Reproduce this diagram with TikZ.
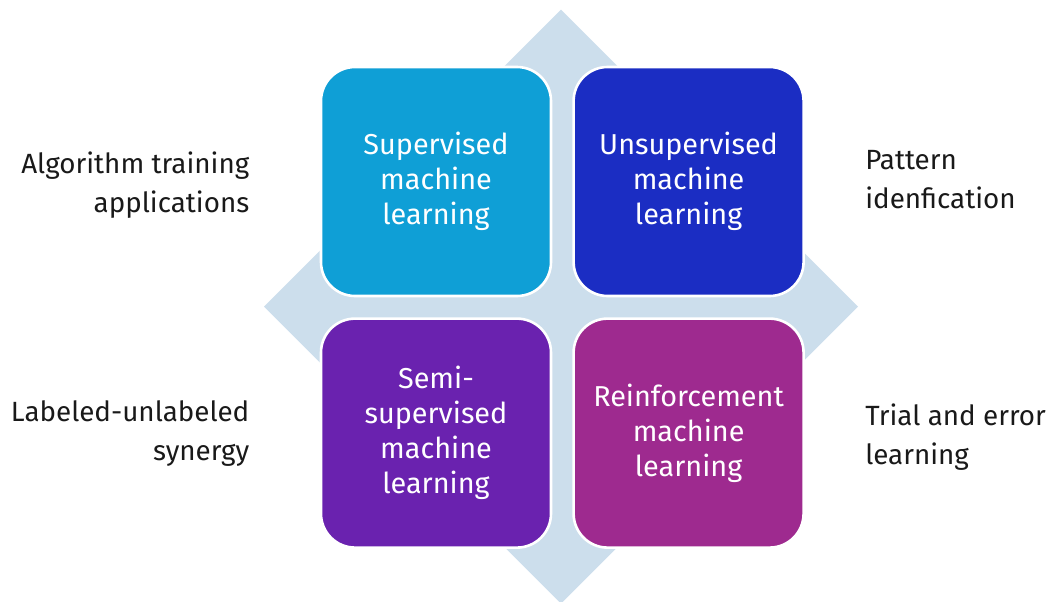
\documentclass[tikz,border=0pt]{standalone}
\usepackage{fontspec}
\setmainfont{Fira Sans}
\usetikzlibrary{positioning}

\begin{document}
\begin{tikzpicture}
	[x=.5pt,y=-.5pt,line cap=round,
	%Styles
	quadrant/.style={fill=#1,draw=white,line width=1.3pt,rounded corners=17pt,
		minimum width=115pt,minimum height=114.5pt,inner sep=0pt,
		text=white,align=center,font=\fontsize{14.4}{17.5}\selectfont},
	side text/.style={text=black!90,inner sep=0pt,font=\fontsize{13.9}{19.5}\selectfont},
	node distance=10pt
	]

	%Colors
	\definecolor{supcolor}{RGB}{15,159,214}
	\definecolor{unsupcolor}{RGB}{27,45,195}
	\definecolor{semicolor}{RGB}{106,34,175}
	\definecolor{reinfcolor}{RGB}{158,42,143}
	\definecolor{diamondcolor}{RGB}{204,222,236}

	%The graphic
	\useasboundingbox (0,0) rectangle (1046,601);
	\coordinate (m) at (561,306.5);

	\fill[diamondcolor] (m) ++(0,-297) -- ++(297,297) -- ++(-297,297) -- ++(-297,-297) -- cycle;

	\node[quadrant=supcolor] (sup) at (436,181.5) {Supervised\\machine\\learning};
	\node[quadrant=unsupcolor,right=of sup] (unsup) {Unsupervised\\machine\\learning};
	\node[quadrant=semicolor,below=of sup] (semi) {Semi-\\supervised\\machine\\learning};
	\node[quadrant=reinfcolor,right=of semi] (reinf) {Reinforcement\\machine\\learning};

	%side notes
	\node[side text,align=right,left=35pt of sup,yshift=-2pt] (train) {Algorithm training\\applications};
	\node[side text,align=left,right=30pt of unsup,yshift=1pt] (pattern) {Pattern\\idenfication};
	\node[side text,align=right,left=35pt of semi] (synergy) {Labeled-unlabeled\\synergy};
	\node[side text,align=left,right=30pt of reinf,yshift=-2pt] (trial) {Trial and error\\learning};
\end{tikzpicture}
\end{document}
